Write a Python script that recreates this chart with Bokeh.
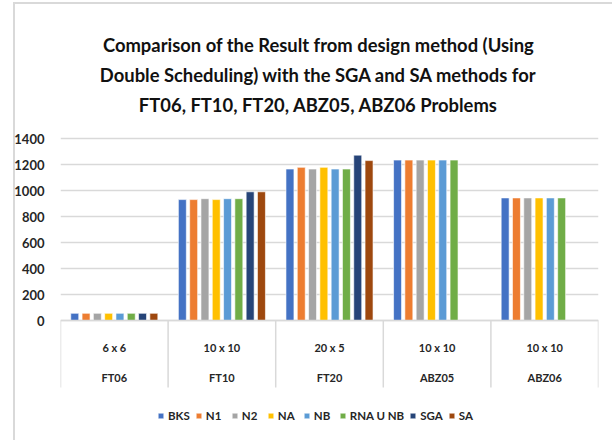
from bokeh.plotting import figure
from bokeh.models import Range1d, Legend, LegendItem, FixedTicker, ColumnDataSource, Span
from bokeh.core.properties import value
from bokeh.embed import file_html
from bokeh.resources import INLINE

# ---- data ----
problems = ["FT06", "FT10", "FT20", "ABZ05", "ABZ06"]
sizes = ["6 x 6", "10 x 10", "20 x 5", "10 x 10", "10 x 10"]
series = ["BKS", "N1", "N2", "NA", "NB", "RNA U NB", "SGA", "SA"]
colors = ["#4472C4", "#ED7D31", "#A5A5A5", "#FFC000", "#5B9BD5", "#70AD47", "#264478", "#9E480E"]
bks = [55, 930, 1165, 1234, 943]
n1 = [55, 930, 1178, 1234, 943]
n2 = [55, 937, 1165, 1234, 943]
na = [55, 930, 1178, 1234, 943]
nb = [55, 937, 1165, 1234, 943]
rna_u_nb = [55, 937, 1165, 1234, 943]
sga = [55, 990, 1272, None, None]
sa = [55, 990, 1230, None, None]
y_ticks = [0, 200, 400, 600, 800, 1000, 1200, 1400]
title_lines = [
    "Comparison of the Result from design method (Using",
    "Double Scheduling) with the SGA and SA methods for",
    "FT06, FT10, FT20, ABZ05, ABZ06 Problems",
]
values = [bks, n1, n2, na, nb, rna_u_nb, sga, sa]

FONT = "Lato"
TXT = "#262626"
GRID = "#d9d9d9"

# ---- layout (canvas pixels) ----
W, H = 612, 440
LEFT, RIGHT = 60, 598          # plot area edges
TOP_TICK_PX, ZERO_PX = 138, 320  # where the top gridline and the zero line sit
NCAT = len(problems)
YMAX = y_ticks[-1]
ppu = (ZERO_PX - TOP_TICK_PX) / YMAX
cat_px = (RIGHT - LEFT) / NCAT


def yd(py):
    return (ZERO_PX - py) / ppu


def xd(px):
    return (px - LEFT) / cat_px


p = figure(width=W, height=H, output_backend="svg", toolbar_location=None,
           x_range=Range1d(0, NCAT), y_range=Range1d(yd(H), yd(0)), x_axis_location=None,
           min_border_left=LEFT, min_border_right=W - RIGHT, min_border_top=0, min_border_bottom=0)
p.outline_line_color = None
p.background_fill_color = None
p.border_fill_color = None
p.styles = {
    "background": ("linear-gradient(#d9d9d9,#d9d9d9) 13px 2px / 2px 460px no-repeat, "
                   "linear-gradient(#d9d9d9,#d9d9d9) 13px 2px / 700px 2px no-repeat, white"),
}

# grid
p.xgrid.grid_line_color = None
p.ygrid.grid_line_color = GRID
p.ygrid.grid_line_width = 1.5

# y axis
p.yaxis.ticker = FixedTicker(ticks=y_ticks)
p.yaxis.axis_line_color = None
p.yaxis.major_tick_line_color = None
p.yaxis.minor_tick_line_color = None
p.yaxis.major_label_text_font = FONT
p.yaxis.major_label_text_font_style = "bold"
p.yaxis.major_label_text_font_size = "13px"
p.yaxis.major_label_text_color = TXT
p.yaxis.major_label_standoff = 10

# bars
step = 0.105
bw = 0.074
renderers = []
for j, (name, vals, col) in enumerate(zip(series, values, colors)):
    xs = [i + 0.5 + (j - (len(series) - 1) / 2) * step for i, v in enumerate(vals) if v is not None]
    tops = [v for v in vals if v is not None]
    r = p.vbar(x=xs, top=tops, width=bw, fill_color=col, line_color="white", line_width=0.6)
    renderers.append((name, r))

# category axis: zero line, separators, two label rows
p.add_layout(Span(location=0, dimension="width", line_color=GRID, line_width=1.5))
bounds = list(range(NCAT + 1))
p.segment(x0=bounds, x1=bounds, y0=[0] * len(bounds), y1=[yd(387)] * len(bounds),
          line_color=GRID, line_width=1.5)
centers = [i + 0.5 for i in range(NCAT)]
lab_src = ColumnDataSource(dict(x=centers, sz=sizes, pr=problems))
p.text(x="x", y=yd(347), text="sz", source=lab_src, text_align="center", text_baseline="middle",
       text_font=value(FONT), text_font_style="bold", text_font_size="11px", text_color=TXT)
p.text(x="x", y=yd(377), text="pr", source=lab_src, text_align="center", text_baseline="middle",
       text_font=value(FONT), text_font_style="bold", text_font_size="11px", text_color=TXT)

# title
tsrc = ColumnDataSource(dict(x=[xd(318)] * 3, y=[yd(44), yd(74), yd(104)], t=title_lines))
p.text(x="x", y="y", text="t", source=tsrc, text_align="center", text_baseline="middle",
       text_font=value(FONT), text_font_style="bold", text_font_size="18.4px", text_color="#111111")

legend = Legend(items=[LegendItem(label=n, renderers=[r]) for n, r in renderers],
                orientation="horizontal", location=(157 - LEFT, H - 422),
                glyph_width=7, glyph_height=7, label_height=14, label_standoff=4, spacing=5,
                padding=0, margin=0, border_line_color=None, background_fill_color=None,
                label_text_font=FONT, label_text_font_style="bold", label_text_font_size="11.5px",
                label_text_color=TXT)
p.add_layout(legend)

open("out.html", "w").write(file_html(p, INLINE))
